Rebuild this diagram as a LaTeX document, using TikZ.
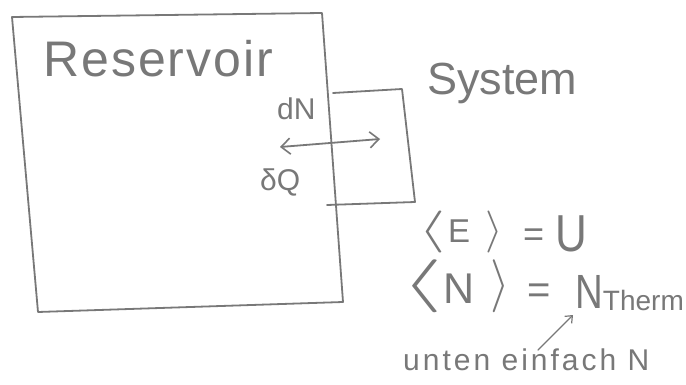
\documentclass[tikz,border=0pt]{standalone}
\usepackage{fontspec}
\setmainfont{Liberation Sans}
\usetikzlibrary{arrows.meta,calc}
\definecolor{pencil}{gray}{0.47}
% stretched angle brackets
\newcommand{\lbrk}[2]{\scalebox{#1}[#2]{\normalsize$\langle$}}
\newcommand{\rbrk}[2]{\scalebox{#1}[#2]{\normalsize$\rangle$}}
\tikzset{
  stroke/.style={draw=pencil, line width=1.8pt, line join=round, line cap=round},
  hand/.style={text=pencil, inner sep=0pt, anchor=base west},
  tip/.style={stroke, {Straight Barb[length=9pt,width=16pt,line width=1.6pt]}-{Straight Barb[length=9pt,width=16pt,line width=1.6pt]}},
  onetip/.style={stroke, -{Straight Barb[length=6pt,width=10pt,line width=1.2pt]}, line width=1.3pt}
}
\begin{document}
\begin{tikzpicture}[x=1pt,y=-1pt]
\useasboundingbox (0,0) rectangle (686,385);
\fill[white] (0,0) rectangle (686,385);

% reservoir outline
\coordinate (r1) at (12,17);
\coordinate (r2) at (322,13);
\coordinate (r3) at (343,302);
\coordinate (r4) at (38,312);
\draw[stroke] (r1) -- (r2) -- (r3) -- (r4) -- cycle;

% system box, open towards the reservoir
\coordinate (s1) at (333,93);
\coordinate (s2) at (402,89);
\coordinate (s3) at (415,202);
\coordinate (s4) at (327,205);
\draw[stroke] (s1) -- (s2) -- (s3) -- (s4);

% texts
\node[hand, font=\fontsize{50}{50}\selectfont\addfontfeature{LetterSpace=4}] (res) at (43,77) {Reservoir};
\node[hand, font=\fontsize{45}{45}\selectfont] (sys) at (427,95) {System};
\node[hand, font=\fontsize{30}{30}\selectfont] (dn) at (277,120) {dN};
\node[hand, font=\fontsize{30}{30}\selectfont] (dq) at (260,190) {δQ};

% exchange arrow
\coordinate (xl) at (280,147);
\coordinate (xr) at (380,139);
\draw[tip] (xl) -- (xr);

% averages
\node[hand, font=\fontsize{33}{33}\selectfont] (eu) at (418,243)
  {\makebox[30pt][l]{\lbrk{7}{4.2}}%
   \makebox[37pt][l]{E}%
   \makebox[38pt][l]{\rbrk{4.5}{4.2}}%
   \makebox[32pt][l]{\raisebox{-4pt}{\fontsize{36}{36}\selectfont =}}%
   \raisebox{-9pt}{\fontsize{40}{40}\selectfont\scalebox{1.1}[1.3]{U}}};
\node[hand, font=\fontsize{43}{43}\selectfont] (neq) at (400,303)
  {\makebox[43pt][l]{\raisebox{4pt}{\lbrk{11}{5.3}}}%
   \makebox[47pt][l]{N}%
   \makebox[37pt][l]{\raisebox{4pt}{\rbrk{5}{5.3}}}%
   {\fontsize{40}{40}\selectfont =}};
\node[hand, font=\fontsize{48}{48}\selectfont] (nth) at (575,303)
  {\raisebox{-5pt}{\scalebox{0.8}[1]{N}}\raisebox{-7pt}{\fontsize{28}{28}\selectfont Therm}};

% remark
\node[hand, font=\fontsize{30}{30}\selectfont\addfontfeature{LetterSpace=10}] (note) at (403,370) {unten einfach N};
\draw[onetip] ([xshift=135pt,yshift=-2pt]note.north west) -- ($(nth.base west)+(-2,12)$);
\end{tikzpicture}
\end{document}
